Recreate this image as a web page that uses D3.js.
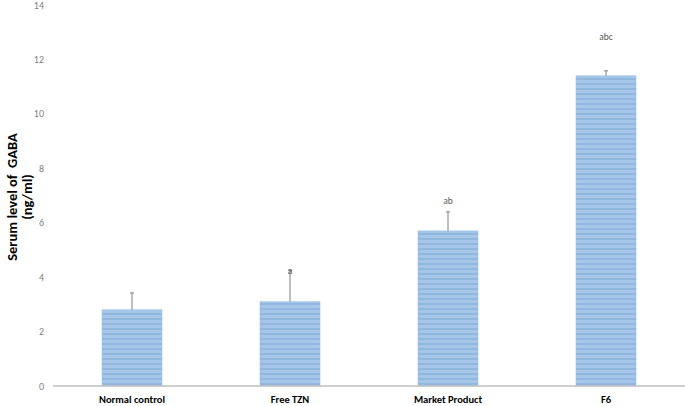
<!DOCTYPE html>
<html><head><meta charset="utf-8">
<script src="https://cdn.jsdelivr.net/npm/d3@7"></script>
<style>body{margin:0;background:#fff}svg{display:block}</style>
</head><body>
<svg id="c" width="685" height="406"></svg>
<script>
const categories = ["Normal control","Free TZN","Market Product","F6"];
const values = [2.8, 3.1, 5.7, 11.4];
const errors = [0.62, 1.15, 0.7, 0.18];
const sigLabels = ["", "a", "ab", "abc"];
const sigLabelY = [null, 4.1, 6.7, 12.7];
const yTicks = [0,2,4,6,8,10,12,14];

const svg = d3.select("#c");
const W = 685, H = 406;
const m = {left:53, right:0, top:5, bottom:20};
const x = d3.scaleBand().domain(categories).range([m.left, W]).paddingInner(0.62).paddingOuter(0.31);
const y = d3.scaleLinear().domain([0,14]).range([386, 5]);

const defs = svg.append("defs");
const pat = defs.append("pattern").attr("id","stripe").attr("patternUnits","userSpaceOnUse")
  .attr("width",8).attr("height",5);
pat.append("rect").attr("width",8).attr("height",5).attr("fill","#a5c6e8");
pat.append("rect").attr("y",3).attr("width",8).attr("height",2).attr("fill","#92b7de");

// y tick labels
svg.append("g").selectAll("text").data(yTicks).join("text")
  .attr("x", 44).attr("y", d => y(d)).attr("dy","0.35em")
  .attr("text-anchor","end").attr("font-family","Calibri, Carlito, 'Liberation Sans', sans-serif")
  .attr("font-size", 10).attr("fill","#7f7f7f").text(d => d);

// bars
svg.append("g").selectAll("rect").data(categories).join("rect")
  .attr("x", d => x(d)).attr("width", x.bandwidth())
  .attr("y", (d,i) => y(values[i])).attr("height", (d,i) => y(0) - y(values[i]))
  .attr("fill","url(#stripe)").attr("stroke","#9cc2e5").attr("stroke-width",0.5);

// error bars
const eg = svg.append("g").attr("stroke","#7f7f7f").attr("stroke-width",1);
categories.forEach((c,i) => {
  const cx = x(c) + x.bandwidth()/2;
  eg.append("line").attr("x1",cx).attr("x2",cx).attr("y1",y(values[i])).attr("y2",y(values[i]+errors[i]));
  eg.append("line").attr("x1",cx-2).attr("x2",cx+2).attr("y1",y(values[i]+errors[i])).attr("y2",y(values[i]+errors[i]));
});

// significance labels
svg.append("g").selectAll("text").data(categories).join("text")
  .attr("x", d => x(d) + x.bandwidth()/2)
  .attr("y", (d,i) => sigLabelY[i] == null ? 0 : y(sigLabelY[i]))
  .attr("text-anchor","middle").attr("font-family","Calibri, Carlito, 'Liberation Sans', sans-serif")
  .attr("font-size", 9.5).attr("fill","#595959").text((d,i) => sigLabels[i]);

// x axis line
svg.append("line").attr("x1", m.left).attr("x2", W).attr("y1", y(0)).attr("y2", y(0))
  .attr("stroke","#bfbfbf").attr("stroke-width",1.5);

// x labels
svg.append("g").selectAll("text").data(categories).join("text")
  .attr("x", d => x(d) + x.bandwidth()/2).attr("y", 403)
  .attr("text-anchor","middle").attr("font-family","Calibri, Carlito, 'Open Sans', sans-serif")
  .attr("font-weight","bold").attr("font-size", 10.5).attr("fill","#000").text(d => d);

// y title
const t = svg.append("text").attr("transform","translate(0,197) rotate(-90)")
  .attr("text-anchor","middle").attr("font-family","Calibri, Carlito, 'Open Sans', sans-serif")
  .attr("font-weight","bold").attr("font-size", 14.5).attr("fill","#000");
t.append("tspan").attr("x",0).attr("y",17).attr("xml:space","preserve").text("Serum level of  GABA");
t.append("tspan").attr("x",0).attr("y",32).text("(ng/ml)");
</script>
</body></html>
